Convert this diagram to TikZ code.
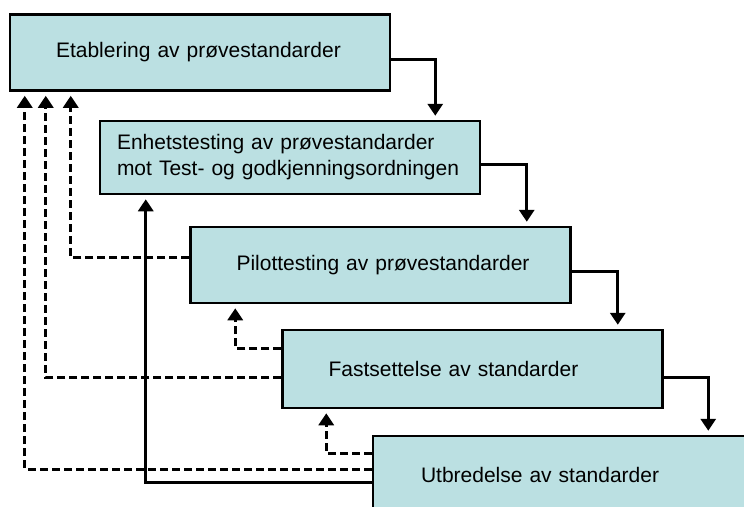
\documentclass[tikz,border=0pt]{standalone}
\usepackage{fontspec}
\setmainfont{Liberation Sans}
\usetikzlibrary{arrows.meta}
\definecolor{stagefill}{RGB}{187,224,226}
\begin{document}
\begin{tikzpicture}[x=1pt, y=-1pt,
  stage/.style={draw, fill=stagefill, line width=2.5pt, minimum height=76pt, text width=304pt, inner xsep=38pt, align=left, font=\fontsize{21}{26}\selectfont},
  flow/.style={line width=3pt, -{Triangle[width=15pt,length=12pt]}, shorten >=4pt},
  back/.style={flow, dash pattern=on 8pt off 4pt}]
\clip (0,0) rectangle (744,506);
\node[stage] (etab) at (200,52.5) {\hspace*{8pt}Etablering av prøvestandarder};
\node[stage, text width=346pt, inner xsep=17pt, minimum height=73pt] (enh) at (290,157.5) {Enhetstesting av prøvestandarder\\mot Test- og godkjenningsordningen};
\node[stage] (pilot) at (380.5,265) {\hspace*{8pt}Pilottesting av prøvestandarder};
\node[stage, minimum height=78pt] (fast) at (472.5,369) {\hspace*{8pt}Fastsettelse av standarder};
\node[stage, minimum height=78pt] (utb) at (563,475) {\hspace*{10pt}Utbredelse av standarder};
\draw[flow] ([yshift=-7pt]etab.east) -| ([xshift=-46pt]enh.north east);
\draw[flow] ([yshift=-7pt]enh.east) -| ([xshift=-45pt]pilot.north east);
\draw[flow] ([yshift=-6pt]pilot.east) -| ([xshift=-46pt]fast.north east);
\draw[flow] ([yshift=-8pt]fast.east) -| ([xshift=-46pt]utb.north east);
\draw[flow] ([yshift=-7pt]utb.west) -| ([xshift=47pt]enh.south west);
\draw[back] ([yshift=8pt]pilot.west) -| ([xshift=62pt]etab.south west);
\draw[back] ([yshift=-8pt]fast.west) -| ([xshift=37pt]etab.south west);
\draw[back] ([yshift=6pt]utb.west) -| ([xshift=16pt]etab.south west);
\draw[back] ([yshift=21pt]fast.west) -| ([xshift=46pt]pilot.south west);
\draw[back] ([yshift=22pt]utb.west) -| ([xshift=45pt]fast.south west);
\end{tikzpicture}
\end{document}
